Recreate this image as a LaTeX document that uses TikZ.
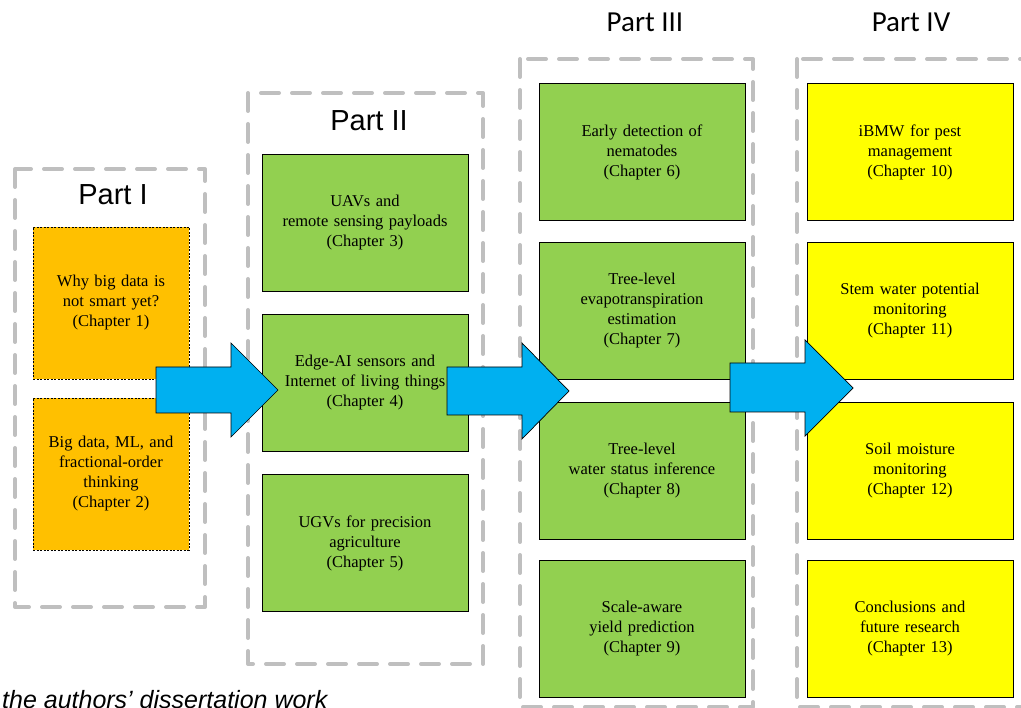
\documentclass[tikz,border=0pt]{standalone}
\usepackage{fontspec}
\setmainfont{Liberation Serif}
\newfontfamily\arialf{Liberation Sans}
\newfontfamily\calibrif{Carlito}
\definecolor{orangeC}{HTML}{FFC000}
\definecolor{greenC}{HTML}{92D050}
\definecolor{yellowC}{HTML}{FFFF00}
\definecolor{blueC}{HTML}{00B0F0}
\definecolor{frameC}{HTML}{BFBFBF}
\tikzset{
  partframe/.style={draw=frameC, line width=4pt, dash pattern=on 18pt off 13pt, line cap=round, line join=round},
  chbox/.style={draw=black, line width=0.8pt, align=center, inner sep=2pt,
     font=\rmfamily\fontsize{16.5}{20}\selectfont},
  orangebox/.style={chbox, fill=orangeC, dash pattern=on 2pt off 1.5pt, minimum width=156pt, minimum height=152pt, text width=152pt},
  greenbox/.style={chbox, fill=greenC, minimum width=206pt, minimum height=137pt, text width=202pt},
  yellowbox/.style={chbox, fill=yellowC, minimum width=206pt, minimum height=137pt, text width=202pt},
  bigarrow/.style={fill=blueC, draw=black, line width=0.7pt, line join=miter},
  partlabelA/.style={font=\arialf\fontsize{29}{32}\selectfont, inner sep=0pt},
  partlabelB/.style={font=\calibrif\fontsize{29}{32}\selectfont, inner sep=0pt},
}
\begin{document}
\begin{tikzpicture}[x=1pt,y=-1pt]
\useasboundingbox (0,0) rectangle (1021,708);
% part frames
\draw[partframe] (15,169) rectangle (205,607);
\draw[partframe] (248,93) rectangle (483,664);
\draw[partframe] (520,59) rectangle (753,707);
\draw[partframe] (797,59) rectangle (1060,707);
% labels
\node[partlabelA] (p1) at (113,195) {Part I};
\node[partlabelA] (p2) at (369,121) {Part II};
\node[partlabelB] (p3) at (645,22) {Part III};
\node[partlabelB] (p4) at (911,22) {Part IV};
% Part I
\node[orangebox] (c1) at (111,303) {Why big data is\\not smart yet?\\(Chapter 1)};
\node[orangebox] (c2) at (111,474) {Big data, ML, and\\fractional-order\\thinking\\(Chapter 2)};
% Part II
\node[greenbox] (c3) at (365,222.5) {UAVs and\\remote sensing payloads\\(Chapter 3)};
\node[greenbox] (c4) at (365,383) {Edge-AI sensors and\\Internet of living things\\(Chapter 4)};
\node[greenbox] (c5) at (365,543) {UGVs for precision\\agriculture\\(Chapter 5)};
% Part III
\node[greenbox] (c6) at (642,152) {Early detection of\\nematodes\\(Chapter 6)};
\node[greenbox] (c7) at (642,311) {Tree-level\\evapotranspiration\\estimation\\(Chapter 7)};
\node[greenbox] (c8) at (642,471) {Tree-level\\water status inference\\(Chapter 8)};
\node[greenbox] (c9) at (642,629) {Scale-aware\\yield prediction\\(Chapter 9)};
% Part IV
\node[yellowbox] (c10) at (910,152) {iBMW for pest\\management\\(Chapter 10)};
\node[yellowbox] (c11) at (910,311) {Stem water potential\\monitoring\\(Chapter 11)};
\node[yellowbox] (c12) at (910,471) {Soil moisture\\monitoring\\(Chapter 12)};
\node[yellowbox] (c13) at (910,629) {Conclusions and\\future research\\(Chapter 13)};
% arrows
\draw[bigarrow] (156,367) -- (231,367) -- (231,343) -- (278,390) -- (231,437) -- (231,413) -- (156,413) -- cycle;
\draw[bigarrow] (447,367) -- (522,367) -- (522,343) -- (569,391) -- (522,439) -- (522,415) -- (447,415) -- cycle;
\draw[bigarrow] (730,363) -- (805,363) -- (805,340) -- (853,388) -- (805,436) -- (805,412) -- (730,412) -- cycle;
% caption fragment
\node[anchor=base west, inner sep=0pt, font=\arialf\itshape\fontsize{25}{28}\selectfont] (cap) at (2,708) {the authors’ dissertation work};
\end{tikzpicture}
\end{document}
